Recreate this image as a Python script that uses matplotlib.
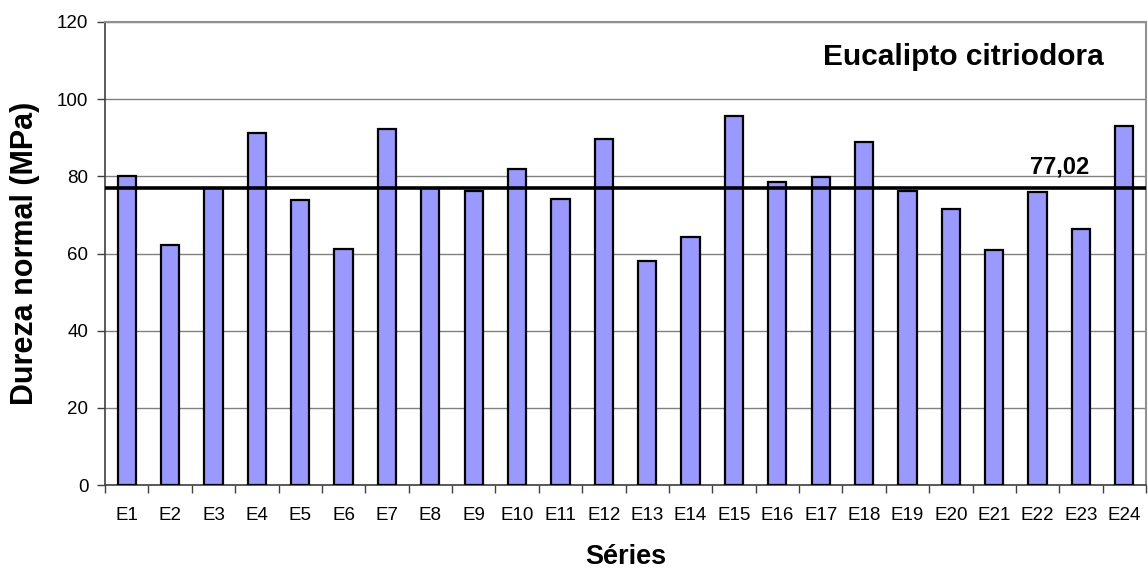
import matplotlib
matplotlib.use("Agg")
import matplotlib.pyplot as plt
import numpy as np

plt.rcParams['font.family'] = ['Liberation Sans', 'DejaVu Sans']

# Normal hardness per test series
series = [f"E{i}" for i in range(1, 25)]
hardness = [80.0, 62.1, 76.9, 91.3, 73.8, 61.1, 92.2, 77.1, 76.2, 81.9, 74.1, 89.6,
            58.1, 64.3, 95.7, 78.6, 79.8, 88.9, 76.2, 71.6, 60.9, 76.0, 66.4, 93.0]
mean_value = 77.02
mean_label = "77,02"
species = "Eucalipto citriodora"
y_ticks = [0, 20, 40, 60, 80, 100, 120]

fig = plt.figure(figsize=(11.48, 5.72), dpi=100)
ax = fig.add_axes([105 / 1148, 1 - 485 / 572, 1041 / 1148, 463 / 572])

x = np.arange(len(series))
ax.bar(x, hardness, width=0.42, color='#9999FF', edgecolor='black', linewidth=1.6, zorder=3)

# Average line with its value
ax.axhline(mean_value, color='black', linewidth=2.6, zorder=4)
ax.annotate(mean_label, xy=(21.5, mean_value), xytext=(0, 7), textcoords='offset points',
            ha='center', va='bottom', fontsize=17, fontweight='bold')

ax.text(0.825, 0.925, species, transform=ax.transAxes, ha='center', va='center',
        fontsize=21.5, fontweight='bold')

ax.set_xlim(-0.5, len(series) - 0.5)
ax.set_ylim(0, 120)
ax.set_yticks(y_ticks)
ax.yaxis.grid(True, color='#808080', linewidth=1.0, zorder=0)
ax.set_axisbelow(True)

ax.set_xticks(x)
ax.set_xticklabels(series, fontsize=13.5)
ax.set_xticks(np.arange(-0.5, len(series)), minor=True)
ax.tick_params(axis='x', which='major', length=0, pad=16)
ax.tick_params(axis='x', which='minor', length=6, width=1.0, color='#404040', direction='out')
ax.tick_params(axis='y', length=6, width=1.0, color='#404040', direction='out', pad=6,
               labelsize=13.5)

for side in ('top', 'right'):
    ax.spines[side].set_color('#909090')
    ax.spines[side].set_linewidth(1.5)
for side in ('left', 'bottom'):
    ax.spines[side].set_color('#404040')
    ax.spines[side].set_linewidth(1.2)

ax.set_xlabel("Séries", fontsize=19.5, fontweight='bold', labelpad=14)
ax.set_ylabel("Dureza normal (MPa)", fontsize=22, fontweight='bold', labelpad=12)

fig.savefig("out.png", dpi=100)
